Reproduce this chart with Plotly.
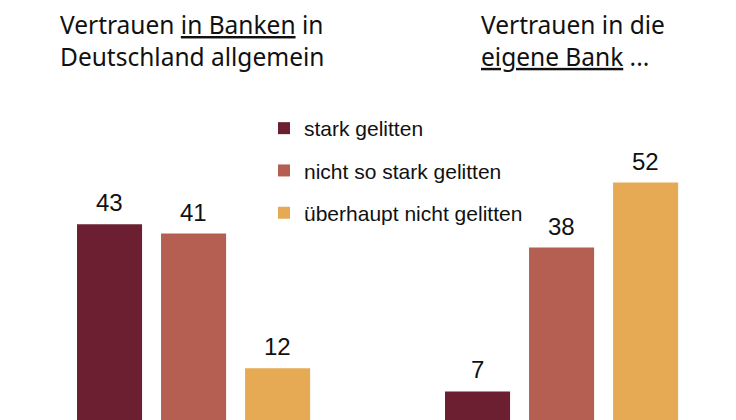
import plotly.graph_objects as go

categories = ["in Banken allgemein", "eigene Bank"]
series_names = ["stark gelitten", "nicht so stark gelitten", "überhaupt nicht gelitten"]
values_stark = [43, 7]
values_nicht_so = [41, 38]
values_ueberhaupt = [12, 52]
colors = ["#6B1F31", "#B55F52", "#E6AA55"]

series_values = [values_stark, values_nicht_so, values_ueberhaupt]

fig = go.Figure()
for i, (name, vals, col) in enumerate(zip(series_names, series_values, colors)):
    fig.add_trace(go.Bar(
        x=categories, y=vals, name=name, legendgroup=f"g{i}",
        marker=dict(color=col, line=dict(width=0)),
        hoverinfo="skip",
    ))
    for c, v in zip(categories, vals):
        fig.add_annotation(
            x=c, y=v, xref="x", yref="y", text=str(v), showarrow=False,
            xanchor="center", yanchor="bottom", xshift=(i - 1) * 84, yshift=6,
            font=dict(family="Liberation Sans, Arial", size=24, color="#111111"),
        )

title_font = dict(family="Noto Sans", size=24.5, color="#111111")
fig.add_annotation(
    x=58 / 736, y=1 - 6 / 420, xref="paper", yref="paper", xanchor="left", yanchor="top",
    text="Vertrauen <u>in Banken</u> in<br>Deutschland allgemein", showarrow=False,
    align="left", font=title_font,
)
fig.add_annotation(
    x=479 / 736, y=1 - 6 / 420, xref="paper", yref="paper", xanchor="left", yanchor="top",
    text="Vertrauen in die<br><u>eigene Bank</u> ...", showarrow=False,
    align="left", font=title_font,
)

fig.update_layout(
    width=736, height=420,
    margin=dict(l=0, r=0, t=0, b=0),
    paper_bgcolor="white", plot_bgcolor="white",
    barmode="group", bargap=0.315, bargroupgap=0.226,
    showlegend=True,
    legend=dict(
        x=264 / 736, y=1 - 108 / 420, xanchor="left", yanchor="top",
        traceorder="grouped", tracegroupgap=12,
        font=dict(family="Liberation Sans, Arial", size=21, color="#111111"),
        bgcolor="rgba(0,0,0,0)",
    ),
    xaxis=dict(type="category", range=[-0.526, 1.474], visible=False, fixedrange=True),
    yaxis=dict(range=[0.86, 91.3], visible=False, fixedrange=True),
)

fig.write_html("out.html", config={"displayModeBar": False},
               post_script="document.body.style.margin='0';")
